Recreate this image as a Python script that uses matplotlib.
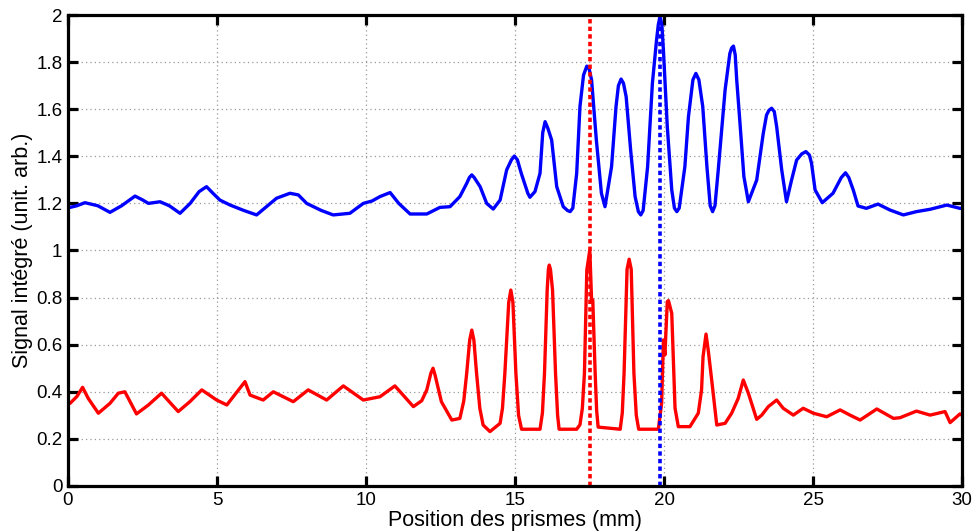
import matplotlib
matplotlib.use('Agg')
import matplotlib.pyplot as plt
import numpy as np

plt.rcParams['font.family'] = ['Liberation Sans', 'DejaVu Sans']

# blue curve (upper signal)
x_blue = [0.0, 0.07, 0.3, 0.57, 1.0, 1.41, 1.8, 2.25, 2.5, 2.7, 3.09, 3.4, 3.76, 4.1, 4.4,
          4.65, 4.85, 5.10, 5.44, 5.9, 6.33, 6.7, 7.0, 7.45, 7.73, 8.01, 8.5, 8.90, 9.46,
          9.91, 10.2, 10.47, 10.81, 11.1, 11.48, 12.04, 12.48, 12.82, 13.15, 13.38, 13.47,
          13.55, 13.63, 13.83, 14.05, 14.27, 14.50, 14.72, 14.88, 14.98, 15.08, 15.21, 15.43,
          15.50, 15.67, 15.84, 15.93, 16.01, 16.10, 16.23, 16.40, 16.62, 16.76, 16.85, 16.94,
          17.07, 17.18, 17.30, 17.41, 17.49, 17.57, 17.73, 17.90, 18.02, 18.24, 18.39, 18.47,
          18.56, 18.64, 18.73, 18.88, 19.03, 19.14, 19.22, 19.30, 19.45, 19.61, 19.75, 19.81,
          19.87, 19.93, 19.98, 20.11, 20.26, 20.35, 20.43, 20.51, 20.70, 20.82, 20.97, 21.07,
          21.17, 21.30, 21.44, 21.55, 21.63, 21.71, 21.82, 22.05, 22.21, 22.27, 22.33, 22.39,
          22.44, 22.55, 22.68, 22.83, 23.11, 23.33, 23.44, 23.52, 23.61, 23.70, 23.78, 23.95,
          24.11, 24.28, 24.45, 24.62, 24.76, 24.88, 24.95, 25.07, 25.31, 25.67, 25.95, 26.09,
          26.20, 26.35, 26.51, 26.79, 27.18, 27.58, 28.03, 28.47, 28.93, 29.49, 29.93, 30.0]
y_blue = [1.19, 1.183, 1.19, 1.203, 1.19, 1.162, 1.19, 1.231, 1.215, 1.200, 1.207, 1.19, 1.158,
          1.20, 1.25, 1.271, 1.245, 1.214, 1.193, 1.17, 1.151, 1.19, 1.222, 1.243, 1.236, 1.200,
          1.17, 1.151, 1.158, 1.200, 1.21, 1.229, 1.246, 1.20, 1.155, 1.155, 1.183, 1.186, 1.229,
          1.285, 1.31, 1.321, 1.31, 1.271, 1.200, 1.176, 1.214, 1.342, 1.385, 1.401, 1.385,
          1.328, 1.243, 1.226, 1.250, 1.328, 1.50, 1.547, 1.52, 1.469, 1.271, 1.186, 1.17, 1.165,
          1.18, 1.328, 1.611, 1.745, 1.783, 1.77, 1.724, 1.469, 1.243, 1.186, 1.356, 1.611, 1.70,
          1.728, 1.71, 1.653, 1.427, 1.229, 1.165, 1.151, 1.17, 1.356, 1.710, 1.894, 1.96, 1.996,
          1.955, 1.851, 1.526, 1.257, 1.18, 1.165, 1.18, 1.356, 1.568, 1.725, 1.752, 1.725, 1.611,
          1.356, 1.19, 1.165, 1.19, 1.342, 1.682, 1.837, 1.86, 1.868, 1.83, 1.724, 1.540, 1.314,
          1.207, 1.299, 1.497, 1.575, 1.595, 1.604, 1.59, 1.526, 1.342, 1.207, 1.299, 1.384, 1.41,
          1.420, 1.405, 1.370, 1.257, 1.203, 1.243, 1.31, 1.330, 1.31, 1.257, 1.189, 1.179,
          1.197, 1.172, 1.151, 1.165, 1.175, 1.193, 1.179, 1.18]

# red curve (lower signal)
x_red = [0.0, 0.07, 0.3, 0.49, 0.68, 1.02, 1.41, 1.69, 1.91, 2.30, 2.70, 3.14, 3.70, 4.09,
         4.49, 4.99, 5.33, 5.94, 6.11, 6.55, 6.89, 7.56, 8.06, 8.68, 9.24, 9.91, 10.47, 10.97,
         11.59, 11.87, 12.04, 12.18, 12.25, 12.32, 12.53, 12.88, 13.15, 13.28, 13.38, 13.48,
         13.55, 13.62, 13.71, 13.82, 13.93, 14.16, 14.50, 14.58, 14.66, 14.79, 14.86, 14.93,
         15.03, 15.12, 15.22, 15.84, 15.92, 15.99, 16.08, 16.12, 16.15, 16.19, 16.26, 16.36,
         16.43, 16.48, 17.07, 17.18, 17.26, 17.33, 17.41, 17.51, 17.57, 17.61, 17.69, 17.74,
         17.79, 18.53, 18.60, 18.66, 18.76, 18.83, 18.90, 18.99, 19.07, 19.15, 19.81, 19.92,
         19.98, 20.03, 20.11, 20.15, 20.26, 20.37, 20.48, 20.87, 21.15, 21.26, 21.31, 21.41,
         21.49, 21.60, 21.77, 22.05, 22.27, 22.49, 22.66, 22.83, 23.11, 23.28, 23.50, 23.78,
         24.00, 24.34, 24.67, 25.01, 25.46, 25.91, 26.24, 26.58, 27.14, 27.70, 27.92, 28.47,
         28.93, 29.43, 29.60, 29.93, 30.0]
y_red = [0.36, 0.351, 0.38, 0.419, 0.372, 0.309, 0.351, 0.394, 0.400, 0.306, 0.344, 0.394,
         0.316, 0.358, 0.408, 0.365, 0.344, 0.443, 0.386, 0.365, 0.400, 0.358, 0.408, 0.365,
         0.425, 0.365, 0.379, 0.425, 0.337, 0.362, 0.408, 0.48, 0.500, 0.47, 0.358, 0.280,
         0.287, 0.36, 0.479, 0.62, 0.662, 0.62, 0.479, 0.33, 0.259, 0.231, 0.266, 0.33, 0.479,
         0.78, 0.832, 0.78, 0.479, 0.30, 0.241, 0.241, 0.31, 0.479, 0.832, 0.92, 0.938, 0.92,
         0.832, 0.479, 0.30, 0.241, 0.241, 0.26, 0.33, 0.479, 0.917, 1.002, 0.790, 0.79, 0.479,
         0.32, 0.25, 0.241, 0.31, 0.479, 0.92, 0.963, 0.92, 0.479, 0.30, 0.241, 0.241, 0.351,
         0.620, 0.556, 0.783, 0.787, 0.733, 0.33, 0.252, 0.252, 0.309, 0.408, 0.549, 0.645,
         0.570, 0.450, 0.259, 0.266, 0.309, 0.372, 0.450, 0.394, 0.283, 0.301, 0.337, 0.365,
         0.330, 0.301, 0.330, 0.309, 0.294, 0.323, 0.301, 0.280, 0.327, 0.287, 0.29, 0.318,
         0.301, 0.316, 0.269, 0.306, 0.30]

# vertical markers
x_mark_red = 17.5
x_mark_blue = 19.87

fig = plt.figure(figsize=(9.75, 5.32), dpi=100)
ax = fig.add_axes([0.0697, 0.0865, 0.917, 0.8853])

ax.plot(x_blue, y_blue, color=(0, 0, 1), lw=2.4)
ax.plot(x_red, y_red, color=(1, 0, 0), lw=2.4)
ax.plot([x_mark_red, x_mark_red], [0, 2], color=(1, 0, 0), lw=2.6, linestyle=(0, (1.2, 0.9)))
ax.plot([x_mark_blue, x_mark_blue], [0, 2], color=(0, 0, 1), lw=2.6, linestyle=(0, (1.2, 0.9)))

ax.set_xlim(0, 30)
ax.set_ylim(0, 2)
ax.set_xticks(np.arange(0, 31, 5))
ax.set_yticks(np.arange(0, 2.01, 0.2))
ax.set_yticklabels(['%g' % round(v, 1) for v in np.arange(0, 2.01, 0.2)])

ax.grid(True, color='#999999', linestyle=(0, (1, 2.5)), lw=0.9)
for s in ax.spines.values():
    s.set_linewidth(2.3)
ax.tick_params(direction='in', length=7, width=2.3, labelsize=13.5, pad=4,
               top=True, right=True)

ax.set_xlabel('Position des prismes (mm)', fontsize=15.5, labelpad=1)
ax.set_ylabel('Signal intégré (unit. arb.)', fontsize=15.5, labelpad=2)

plt.savefig('out.png', dpi=100)
